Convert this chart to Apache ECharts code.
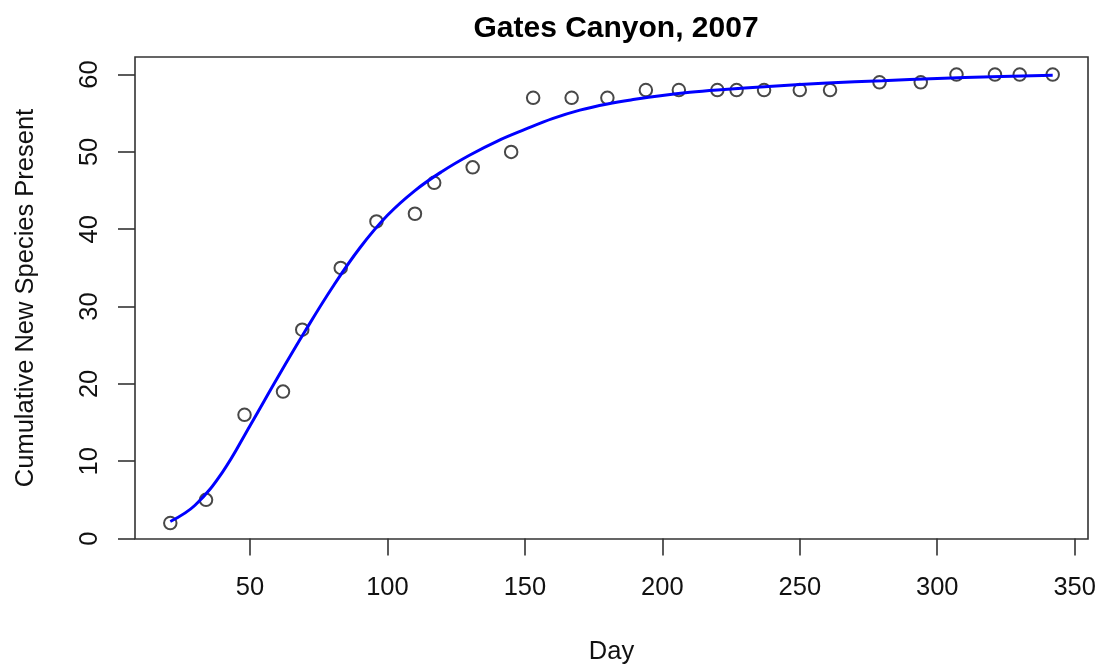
<!DOCTYPE html>
<html>
<head>
<meta charset="utf-8">
<script src="https://cdn.jsdelivr.net/npm/echarts@6/dist/echarts.min.js"></script>
<style>
  html, body { margin: 0; padding: 0; background: #ffffff; }
  #chart { width: 1106px; height: 671px; }
</style>
</head>
<body>
<div id="chart"></div>
<script>
// Observed survey days and cumulative count of new species
const days = [21, 34, 48, 62, 69, 83, 96, 110, 117, 131, 145, 153, 167, 180, 194, 206, 220, 227, 237, 250, 261, 279, 294, 307, 321, 330, 342];
const species = [2, 5, 16, 19, 27, 35, 41, 42, 46, 48, 50, 57, 57, 57, 58, 58, 58, 58, 58, 58, 58, 59, 59, 60, 60, 60, 60];

// Fitted accumulation curve, sampled along the day axis
const curveDays = [21, 30, 40, 50, 60, 70, 80, 90, 100, 110, 120, 130, 140, 150, 160, 170, 180, 190, 200, 210, 220, 240, 260, 280, 300, 320, 342];
const curveVals = [2.2, 4.3, 8.6, 14.6, 20.8, 26.8, 32.5, 37.6, 41.8, 45.0, 47.5, 49.6, 51.4, 52.9, 54.3, 55.4, 56.2, 56.8, 57.3, 57.7, 58.0, 58.5, 58.9, 59.2, 59.5, 59.7, 59.9];

// Tick labels
const xTicks = [50, 100, 150, 200, 250, 300, 350];
const yTicks = [0, 10, 20, 30, 40, 50, 60];

const titleText = 'Gates Canyon, 2007';
const xName = 'Day';
const yName = 'Cumulative New Species Present';

const ink = '#333333';
const font = 'Liberation Sans, Arial, Helvetica, sans-serif';

const chart = echarts.init(document.getElementById('chart'), null, { renderer: 'canvas' });

chart.setOption({
  animation: false,
  backgroundColor: '#ffffff',
  title: {
    text: titleText,
    left: 611,
    textAlign: 'center',
    top: 9,
    textStyle: { fontFamily: font, fontSize: 30, fontWeight: 'bold', color: '#000000' }
  },
  grid: {
    left: 135, right: 18, top: 57, bottom: 132,
    show: true,
    borderColor: ink,
    borderWidth: 1.6,
    backgroundColor: 'transparent'
  },
  xAxis: {
    type: 'value',
    min: 8.16,
    max: 354.84,
    name: xName,
    nameLocation: 'middle',
    nameGap: 100,
    nameTextStyle: { fontFamily: font, fontSize: 25.5, color: '#111111' },
    axisLine: { show: false },
    splitLine: { show: false },
    axisTick: {
      show: true, inside: false, length: 17,
      customValues: xTicks,
      lineStyle: { color: ink, width: 1.6 }
    },
    axisLabel: {
      customValues: xTicks,
      margin: 36,
      fontFamily: font, fontSize: 25.5, color: '#111111'
    }
  },
  yAxis: {
    type: 'value',
    min: -0.06,
    max: 62.27,
    name: yName,
    nameLocation: 'middle',
    nameGap: 96,
    nameTextStyle: { fontFamily: font, fontSize: 25.5, color: '#111111' },
    axisLine: { show: false },
    splitLine: { show: false },
    axisTick: {
      show: true, inside: false, length: 17,
      customValues: yTicks,
      lineStyle: { color: ink, width: 1.6 }
    },
    axisLabel: {
      customValues: yTicks,
      rotate: 90,
      margin: 32,
      fontFamily: font, fontSize: 25.5, color: '#111111'
    }
  },
  series: [
    {
      type: 'scatter',
      data: days.map((d, i) => [d, species[i]]),
      symbol: 'circle',
      symbolSize: 12.5,
      itemStyle: { color: 'rgba(0,0,0,0)', borderColor: '#1a1a1a', borderWidth: 2 },
      z: 2
    },
    {
      type: 'line',
      data: curveDays.map((d, i) => [d, curveVals[i]]),
      smooth: 0.4,
      showSymbol: false,
      lineStyle: { color: '#0000ff', width: 3 },
      z: 3
    }
  ]
});
</script>
</body>
</html>
